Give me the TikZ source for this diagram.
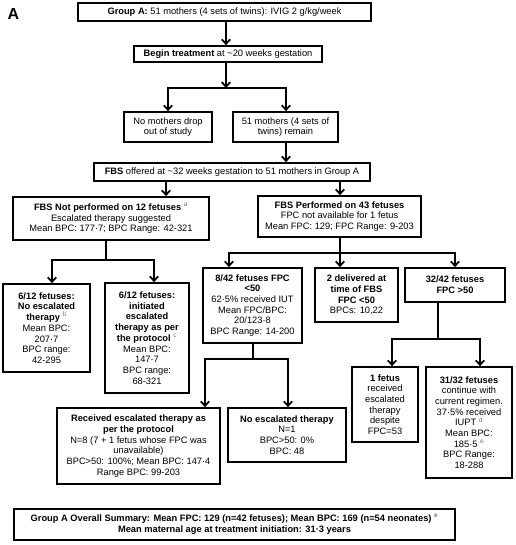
\documentclass[tikz,border=0pt]{standalone}
\usepackage{fontspec}
\setmainfont{Liberation Sans}
\usetikzlibrary{arrows.meta,shadows}
\newcommand\sups[1]{\textsuperscript{\textcolor{black!55}{#1}}}
\tikzset{
  box/.style={draw, line width=1.8pt, fill=white, align=center, inner sep=1pt,
    font=\fontsize{9.3}{10.7}\selectfont,
    drop shadow={shadow xshift=1.4pt, shadow yshift=-1.4pt, fill=black!30, opacity=0.7}},
  conn/.style={line width=1.8pt},
  arr/.style={line width=1.8pt, -{Straight Barb[length=4.5pt,width=8.5pt,line width=1.8pt]}},
}
\begin{document}
\begin{tikzpicture}[x=1pt,y=-1pt]
\useasboundingbox (0,0) rectangle (515,545);
\node[font=\bfseries\fontsize{16}{16}\selectfont] (lbl) at (13.5,14.5) {A};
% boxes
\node[box, minimum width=293pt, minimum height=18pt] (b1) at (224.5,12)
  {\textbf{Group A:} 51 mothers (4 sets of twins): IVIG 2 g/kg/week};
\node[box, minimum width=188pt, minimum height=16pt] (b2) at (228,54)
  {\textbf{Begin treatment} at \textasciitilde20 weeks gestation};
\node[box, minimum width=88pt, minimum height=30pt] (b3) at (168,127)
  {No mothers drop\\out of study};
\node[box, minimum width=105pt, minimum height=30pt] (b4) at (285.5,127)
  {51 mothers (4 sets of\\twins) remain};
\node[box, minimum width=276pt, minimum height=18pt] (b5) at (232,172)
  {\textbf{FBS} offered at \textasciitilde32 weeks gestation to 51 mothers in Group A};
\node[box, minimum width=196pt, minimum height=43pt] (b6) at (111,218.5)
  {\textbf{FBS Not performed on 12 fetuses} \sups{a}\\Escalated therapy suggested\\Mean BPC: 177·7; BPC Range: 42-321};
\node[box, minimum width=163pt, minimum height=41pt] (b7) at (339.5,216.5)
  {\textbf{FBS Performed on 43 fetuses}\\FPC not available for 1 fetus\\Mean FPC: 129; FPC Range: 9-203};
\node[box, minimum width=87pt, minimum height=88pt] (b8) at (46.5,328)
  {\textbf{6/12 fetuses:}\\\textbf{No escalated}\\\textbf{therapy} \sups{b}\\Mean BPC:\\207·7\\BPC range:\\42-295};
\node[box, minimum width=84pt, minimum height=110pt] (b9) at (147,338)
  {\textbf{6/12 fetuses:}\\\textbf{initiated}\\\textbf{escalated}\\\textbf{therapy as per}\\\textbf{the protocol} \sups{c}\\Mean BPC:\\147·7\\BPC range:\\68-321};
\node[box, minimum width=99pt, minimum height=75pt] (b10) at (252.5,305.5)
  {\textbf{8/42 fetuses FPC}\\\textbf{<50}\\62·5\% received IUT\\Mean FPC/BPC:\\20/123·8\\BPC Range: 14-200};
\node[box, minimum width=83pt, minimum height=54pt] (b11) at (356.5,295)
  {\textbf{2 delivered at}\\\textbf{time of FBS}\\\textbf{FPC <50}\\BPCs: 10,22};
\node[box, minimum width=100pt, minimum height=34pt] (b12) at (455,285)
  {\textbf{32/42 fetuses}\\\textbf{FPC >50}};
\node[box, minimum width=66pt, minimum height=75pt] (b13) at (385,404.5)
  {\textbf{1 fetus}\\received\\escalated\\therapy\\despite\\FPC=53};
\node[box, minimum width=86pt, minimum height=111pt] (b14) at (469,422.5)
  {\textbf{31/32 fetuses}\\continue with\\current regimen.\\37·5\% received\\IUPT \sups{d}\\Mean BPC:\\185·5 \sups{e}\\BPC Range:\\18-288};
\node[box, minimum width=163pt, minimum height=76pt] (b15) at (138.5,446)
  {\textbf{Received escalated therapy as}\\\textbf{per the protocol}\\N=8 (7 + 1 fetus whose FPC was\\unavailable)\\BPC>50: 100\%; Mean BPC: 147·4\\Range BPC: 99-203};
\node[box, minimum width=118pt, minimum height=54pt] (b16) at (287,435)
  {\textbf{No escalated therapy}\\N=1\\BPC>50: 0\%\\BPC: 48};
\node[box, line width=2.8pt, minimum width=441pt, minimum height=31pt,
  font=\bfseries\fontsize{9.3}{11}\selectfont] (b17) at (234.5,524.5)
  {Group A Overall Summary: Mean FPC: 129 (n=42 fetuses); Mean BPC: 169 (n=54 neonates) \sups{e}\\Mean maternal age at treatment initiation: 31·3 years};
% junctions
\coordinate (j1) at (226,88);
\coordinate (j2) at (106,260);
\coordinate (j3) at (340,253);
\coordinate (j4) at (438,339);
\coordinate (j5) at (253,359);
% connectors
\draw[arr] (b1.south -| j1) -- (b2.north -| j1);
\draw[arr] (b2.south -| j1) -- (j1);
\draw[conn] (168,88) -- (286,88);
\draw[arr] (b3.north |- j1) ++(0,-0.9) -- (b3.north);
\draw[arr] (286,87.1) -- (b4.north -| 286,0);
\coordinate (c4) at (286,142);
\draw[arr] (b4.south -| c4) -- (b5.north -| c4);
\coordinate (c5a) at (166,181);
\draw[arr] (b5.south -| c5a) -- (b6.north -| c5a);
\draw[arr] (b5.south -| j3) -- (b7.north -| j3);
% b6 branch
\draw[conn] (b6.south -| j2) -- (j2);
\coordinate (c6l) at (52,260);
\coordinate (c6r) at (154,260);
\draw[conn] (c6l) -- (c6r);
\draw[arr] ([yshift=0.9pt]c6l) -- (b8.north -| c6l);
\draw[arr] ([yshift=0.9pt]c6r) -- (b9.north -| c6r);
% b7 branch
\draw[conn] (b7.south -| j3) -- (j3);
\coordinate (c7l) at (229,253);
\coordinate (c7r) at (455,253);
\draw[conn] (c7l) -- (c7r);
\draw[arr] ([yshift=0.9pt]c7l) -- (b10.north -| c7l);
\draw[arr] (j3) -- (b11.north -| j3);
\draw[arr] ([yshift=0.9pt]c7r) -- (b12.north -| c7r);
% b12 branch
\draw[conn] (b12.south -| j4) -- (j4);
\coordinate (c12l) at (392,339);
\coordinate (c12r) at (480,339);
\draw[conn] (c12l) -- (c12r);
\draw[arr] ([yshift=0.9pt]c12l) -- (b13.north -| c12l);
\draw[arr] ([yshift=0.9pt]c12r) -- (b14.north -| c12r);
% b10 branch
\draw[conn] (b10.south -| j5) -- (j5);
\coordinate (c10l) at (205,359);
\coordinate (c10r) at (288,359);
\draw[conn] (c10l) -- (c10r);
\draw[arr] ([yshift=0.9pt]c10l) -- (b15.north -| c10l);
\draw[arr] ([yshift=0.9pt]c10r) -- (b16.north -| c10r);
\end{tikzpicture}
\end{document}
